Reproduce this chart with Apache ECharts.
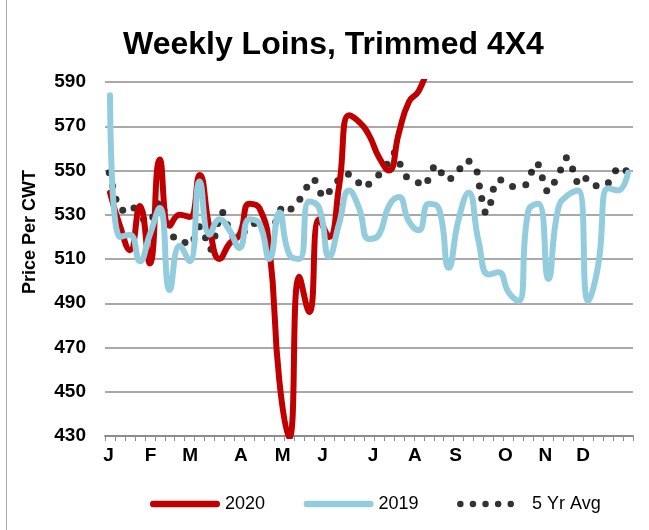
<!DOCTYPE html>
<html>
<head>
<meta charset="utf-8">
<script src="https://cdn.jsdelivr.net/npm/echarts@6/dist/echarts.min.js"></script>
<style>
html,body{margin:0;padding:0;background:#fff;}
#chart{width:649px;height:530px;}
</style>
</head>
<body>
<div id="chart"></div>
<script>
// ---- data ----
const weekLabels = Array.from({length: 53}, (_, i) => 'Wk ' + (i + 1));
const monthLabels = ['J','F','M','A','M','J','J','A','S','O','N','D'];
const monthPos = [-0.15, 4.07, 8.06, 13.13, 17.34, 21.34, 26.4, 30.6, 34.7, 39.7, 43.7, 47.5];
const yTicks = {min: 430, max: 590, step: 20};

const series2020 = [540, 525, 514, 534, 508, 555, 525, 530, 529, 548, 524, 510, 517, 521, 535, 533, 515, 455, 429, 502, 486, 528, 520, 543, 575, 572, 566, 556, 550, 567, 581, 586, 598];

const series2019 = [584, 520, 521, 509, 521, 533, 496, 516, 509, 545, 521, 528, 523, 515, 528, 526, 510, 531, 512, 510, 536, 533, 511, 526, 541, 533, 519, 521, 534, 538, 527, 523, 535, 533, 506, 528, 540, 518, 503, 504, 495, 491, 532, 535, 501, 533, 539, 541, 491, 507, 542, 541, 549];

const avgWeek = [-0.07, 0.27, 0.60, 1.28, 2.41, 3.36, 4.29, 4.82, 5.42, 5.77, 6.38, 7.53, 8.43, 8.97, 9.59, 10.14, 10.54, 10.81, 11.32, 11.78, 12.35, 13.48, 14.49, 15.73, 16.64, 17.14, 18.17, 19.06, 19.75, 20.58, 21.15, 22.02, 22.86, 23.93, 24.96, 25.97, 26.97, 27.81, 28.54, 29.12, 29.76, 30.95, 31.90, 32.46, 33.26, 34.21, 35.12, 36.04, 36.85, 37.08, 37.32, 37.65, 38.22, 38.48, 39.23, 40.41, 41.74, 42.31, 43.00, 43.40, 43.84, 44.61, 45.23, 45.81, 46.44, 46.86, 47.77, 48.80, 50.03, 50.75, 51.81];
const avgValue = [549, 543, 537, 532, 533, 528, 529, 535, 532, 526, 520, 517.5, 519, 524.6, 519.6, 514.4, 520.4, 526, 531, 525.5, 520, 522.3, 526, 523, 526.7, 532.5, 532.6, 537, 542.4, 545.5, 539.7, 540.5, 545.4, 548.3, 544.5, 543.8, 548, 552.8, 558, 552.8, 547.2, 544.5, 545.5, 551.2, 549, 546.4, 550.8, 554.2, 549.3, 543, 537.3, 531.2, 535.5, 541.5, 545.7, 542.8, 543.6, 549.2, 552.6, 546.7, 540.9, 544.7, 550.2, 555.8, 550.7, 545, 546.4, 543.1, 544.5, 549.9, 549.9];

// ---- styling ----
const FONT = '"Liberation Sans", Arial, sans-serif';
const RED = '#C00000';
const BLUE = '#93CDDD';
const GRID = '#8c8c8c';

// legend icons (70 x 6.5 box)
const barIcon = 'path://M3.25 0 L66.75 0 A3.25 3.25 0 0 1 66.75 6.5 L3.25 6.5 A3.25 3.25 0 0 1 3.25 0 Z';
let dotsIcon = 'path://M0 0 L0 0 M70 6.5 L70 6.5 ';
for (let k = 0; k < 5; k++) {
  const cx = 3.25 + k * 12.6, r = 3.25, cy = 3.25;
  dotsIcon += `M${cx - r} ${cy} A${r} ${r} 0 1 0 ${cx + r} ${cy} A${r} ${r} 0 1 0 ${cx - r} ${cy} Z `;
}

const chart = echarts.init(document.getElementById('chart'), null, {renderer: 'canvas'});
const option = {
  animation: false,
  backgroundColor: '#fff',
  title: {
    text: 'Weekly Loins, Trimmed 4X4',
    left: 118, top: 24,
    textStyle: {fontSize: 32, fontWeight: 'bold', color: '#000', fontFamily: FONT}
  },
  grid: {left: 105, right: 16, top: 82, bottom: 94, containLabel: false, outerBoundsMode: 'none'},
  legend: {
    left: 150, top: 495, padding: 0, itemWidth: 70, itemHeight: 6.5, itemGap: 38.5,
    textStyle: {fontSize: 18, color: '#000', fontFamily: FONT},
    data: [
      {name: '2020', icon: barIcon},
      {name: '2019', icon: barIcon},
      {name: '5 Yr Avg', icon: dotsIcon}
    ]
  },
  xAxis: [
    {
      type: 'category', data: weekLabels, boundaryGap: true,
      axisLine: {lineStyle: {color: GRID, width: 2}},
      axisTick: {show: true, interval: 0, length: 5, lineStyle: {color: GRID, width: 1}},
      axisLabel: {show: false},
      splitLine: {show: false}
    },
    {
      type: 'value', min: -0.5, max: 52.5, position: 'bottom',
      axisLine: {show: false}, axisTick: {show: false}, splitLine: {show: false},
      axisLabel: {
        customValues: monthPos,
        formatter: function (v) {
          let best = 0, d = Infinity;
          monthPos.forEach((p, i) => { if (Math.abs(p - v) < d) { d = Math.abs(p - v); best = i; } });
          return monthLabels[best];
        },
        fontSize: 19, fontWeight: 'bold', color: '#000', fontFamily: FONT, margin: 10
      }
    }
  ],
  yAxis: {
    type: 'value', min: yTicks.min, max: yTicks.max, interval: yTicks.step,
    axisLine: {show: false}, axisTick: {show: false},
    splitLine: {lineStyle: {color: GRID, width: 1.5}},
    axisLabel: {fontSize: 19, fontWeight: 'bold', color: '#000', fontFamily: FONT, margin: 19}
  },
  series: [
    {
      name: '2020', type: 'line', data: series2020, smooth: true,
      symbol: 'none', showSymbol: false, clip: true,
      lineStyle: {color: RED, width: 6, cap: 'round', join: 'round'},
      itemStyle: {color: RED}
    },
    {
      name: '2019', type: 'line', data: series2019, smooth: true,
      symbol: 'none', showSymbol: false, clip: true,
      lineStyle: {color: BLUE, width: 6, cap: 'round', join: 'round'},
      itemStyle: {color: BLUE}
    },
    {
      name: '5 Yr Avg', type: 'scatter', xAxisIndex: 1,
      data: avgWeek.map((w, i) => [w, avgValue[i]]),
      symbol: 'circle', symbolSize: 7,
      itemStyle: {color: '#000'}
    }
  ],
  graphic: [
    {type: 'line', shape: {x1: 6.5, y1: 0, x2: 6.5, y2: 530}, style: {stroke: '#a6a6a6', lineWidth: 1}},
    {
      type: 'text', x: 30, y: 232, rotation: Math.PI / 2,
      style: {text: 'Price Per CWT', font: 'bold 18px "Liberation Sans", Arial, sans-serif', fill: '#000', textAlign: 'center', textVerticalAlign: 'middle'}
    }
  ]
};
chart.setOption(option);
</script>
</body>
</html>
